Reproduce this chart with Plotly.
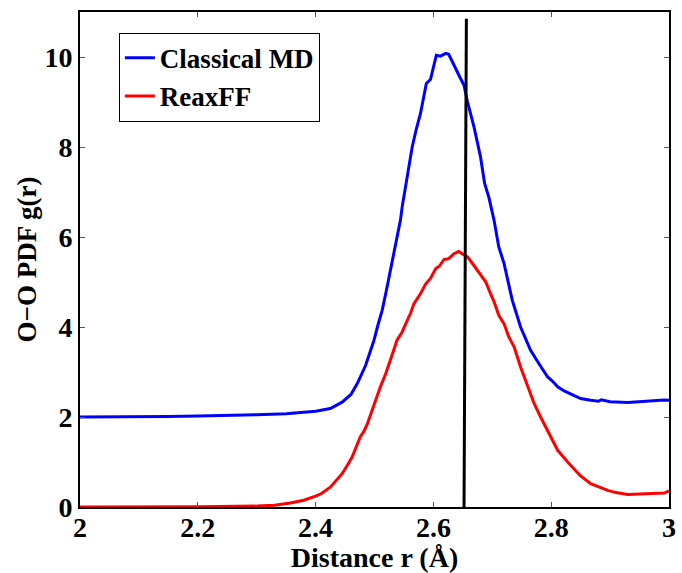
import plotly.graph_objects as go

r_md = [2.00, 2.05, 2.10, 2.15, 2.20, 2.25, 2.30, 2.35, 2.38, 2.40, 2.425, 2.445, 2.46, 2.471,
        2.485, 2.499, 2.506, 2.513, 2.520, 2.527, 2.533, 2.538, 2.544, 2.547, 2.555, 2.564,
        2.571, 2.578, 2.588, 2.595, 2.605, 2.612, 2.621, 2.626, 2.632, 2.639, 2.645, 2.652,
        2.658, 2.669, 2.680, 2.687, 2.694, 2.703, 2.711, 2.720, 2.727, 2.734, 2.748, 2.757,
        2.765, 2.779, 2.794, 2.802, 2.811, 2.822, 2.833, 2.850, 2.867, 2.880, 2.885, 2.900,
        2.930, 2.963, 2.980, 2.992, 3.000]
g_md = [2.00, 2.00, 2.01, 2.01, 2.02, 2.03, 2.05, 2.07, 2.10, 2.13, 2.19, 2.33, 2.50, 2.75,
        3.15, 3.70, 4.05, 4.37, 4.80, 5.26, 5.65, 6.00, 6.37, 6.67, 7.30, 8.00,
        8.40, 8.74, 9.41, 9.50, 10.04, 10.02, 10.08, 10.06, 9.90, 9.70, 9.55, 9.37,
        9.00, 8.44, 7.78, 7.19, 6.89, 6.37, 5.78, 5.41, 5.00, 4.59, 4.00, 3.72,
        3.48, 3.19, 2.89, 2.80, 2.67, 2.58, 2.52, 2.41, 2.37, 2.35, 2.38, 2.34,
        2.32, 2.35, 2.36, 2.38, 2.37]

r_rx = [2.00, 2.10, 2.20, 2.30, 2.33, 2.357, 2.38, 2.40, 2.41, 2.425, 2.445, 2.455, 2.462,
        2.476, 2.482, 2.488, 2.496, 2.503, 2.510, 2.519, 2.527, 2.533, 2.538, 2.547, 2.554,
        2.561, 2.567, 2.578, 2.587, 2.595, 2.604, 2.610, 2.618, 2.626, 2.635, 2.643, 2.650,
        2.658, 2.667, 2.675, 2.689, 2.697, 2.703, 2.711, 2.720, 2.728, 2.737, 2.748, 2.760,
        2.771, 2.782, 2.796, 2.805, 2.811, 2.828, 2.833, 2.849, 2.867, 2.880, 2.896, 2.910,
        2.930, 2.950, 2.963, 2.980, 2.992, 3.000]
g_rx = [0.00, 0.00, 0.005, 0.02, 0.04, 0.09, 0.15, 0.24, 0.30, 0.44, 0.74, 0.95, 1.11,
        1.56, 1.68, 1.85, 2.15, 2.40, 2.67, 2.96, 3.30, 3.50, 3.70, 3.89, 4.10,
        4.30, 4.52, 4.74, 4.96, 5.08, 5.30, 5.35, 5.50, 5.52, 5.63, 5.68, 5.62,
        5.56, 5.40, 5.26, 5.00, 4.74, 4.56, 4.26, 4.07, 3.78, 3.56, 3.11, 2.67,
        2.30, 2.00, 1.63, 1.41, 1.26, 1.00, 0.93, 0.70, 0.52, 0.45, 0.37, 0.32,
        0.28, 0.29, 0.30, 0.30, 0.31, 0.36]

vline_r = [2.656, 2.652]
vline_g = [10.85, 0.0]

x_ticks = [2, 2.2, 2.4, 2.6, 2.8, 3]
y_ticks = [0, 2, 4, 6, 8, 10]

FONT = "Liberation Serif, Times New Roman, Times, serif"

fig = go.Figure()
fig.add_trace(go.Scatter(x=r_md, y=g_md, mode="lines", name="Classical MD",
                         line=dict(color="#0000ff", width=3)))
fig.add_trace(go.Scatter(x=r_rx, y=g_rx, mode="lines", name="ReaxFF",
                         line=dict(color="#ff0000", width=3)))
fig.add_trace(go.Scatter(x=vline_r, y=vline_g, mode="lines", showlegend=False,
                         line=dict(color="black", width=3)))

axis_common = dict(
    showline=True, linecolor="black", linewidth=2, mirror="ticks",
    ticks="inside", ticklen=5, tickcolor="#555555", tickwidth=1,
    showgrid=False, zeroline=False, automargin=False,
    tickfont=dict(family=FONT, size=28, color="black", weight="bold"),
)

fig.update_xaxes(range=[2, 3], tickvals=x_ticks, ticktext=[str(t) for t in x_ticks],
                 ticklabelstandoff=-6,
                 title=dict(text="Distance r (Å)", standoff=0,
                            font=dict(family=FONT, size=28, color="black", weight="bold")),
                 **axis_common)
fig.update_yaxes(range=[0, 11], tickvals=y_ticks, ticktext=[str(t) for t in y_ticks],
                 ticklabelstandoff=0,
                 title=dict(text="O\u2212O PDF g(r)", standoff=0,
                            font=dict(family=FONT, size=27, color="black", weight="bold")),
                 **axis_common)

fig.update_layout(
    width=682, height=573,
    margin=dict(l=80, r=13, t=12, b=66),
    paper_bgcolor="white", plot_bgcolor="white",
    showlegend=True,
    legend=dict(x=0.066, y=0.958, xanchor="left", yanchor="top",
                bgcolor="white", bordercolor="black", borderwidth=1,
                font=dict(family=FONT, size=27, color="black", weight="bold"),
                tracegroupgap=0, itemwidth=30),
)

fig.write_html("out.html")
